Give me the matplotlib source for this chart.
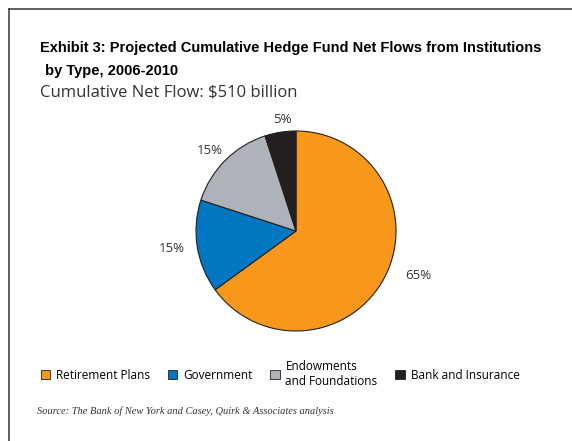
import numpy as np
import matplotlib.pyplot as plt
from matplotlib.lines import Line2D
from matplotlib.patches import Patch

categories = ['Retirement Plans', 'Government', 'Endowments\nand Foundations', 'Bank and Insurance']
shares = [65, 15, 15, 5]
colors = ['#F7981D', '#0077C0', '#ADB3B8', '#231F20']
pct_labels = ['65%', '15%', '15%', '5%']

fig = plt.figure(figsize=(5.72, 4.41), dpi=100)
fig.patch.set_facecolor('white')

# frame lines (top and left only, as in the scan)
fig.add_artist(Line2D([9/572, 1], [1 - 9/441, 1 - 9/441], color='#444444', lw=1.2))
fig.add_artist(Line2D([9/572, 9/572], [0, 1 - 9/441], color='#444444', lw=1.2))

fig.text(40/572, 1 - 48/441, 'Exhibit 3: Projected Cumulative Hedge Fund Net Flows from Institutions',
         fontsize=10.5, fontweight='bold', family='Liberation Sans', va='center', ha='left')
fig.text(41/572, 1 - 71/441, ' by Type, 2006-2010',
         fontsize=10.5, fontweight='bold', family='Liberation Sans', va='center', ha='left')
fig.text(40/572, 1 - 92/441, 'Cumulative Net Flow: $510 billion',
         fontsize=12, family='Open Sans', color='#333333', va='center', ha='left')

ax = fig.add_axes([(296 - 100)/572, (441 - 331)/441, 200/572, 200/441])
wedges, texts = ax.pie(shares, colors=colors, startangle=90, counterclock=False,
                       labels=pct_labels, labeldistance=1.2,
                       wedgeprops=dict(edgecolor='#231F20', linewidth=0.8),
                       textprops=dict(fontsize=9.5, family='Open Sans', color='#333333'))
# label placement (angle in degrees, radius) tuned to the original
label_pos = [(-20, 1.3), (188, 1.25), (137, 1.18), (97, 1.12)]
for t, (ang, r) in zip(texts, label_pos):
    a = np.deg2rad(ang)
    t.set_position((r * np.cos(a), r * np.sin(a)))
    t.set_ha('center')
    t.set_va('center')
ax.set_xlim(-1, 1)
ax.set_ylim(-1, 1)

handles = [Patch(facecolor=c, edgecolor='#231F20', linewidth=0.6) for c in colors]
fig.legend(handles, categories, loc='center left', bbox_to_anchor=(30/572, 1 - 374/441),
           ncol=4, frameon=False, handlelength=0.8, handleheight=0.8, handletextpad=0.5,
           columnspacing=1.5, prop=dict(family='Open Sans', size=8.5))

fig.text(37/572, 1 - 411/441, 'Source: The Bank of New York and Casey, Quirk & Associates analysis',
         fontsize=7.5, family='Liberation Serif', style='italic', color='#333333', va='center', ha='left')

fig.savefig('out.png', dpi=100)
